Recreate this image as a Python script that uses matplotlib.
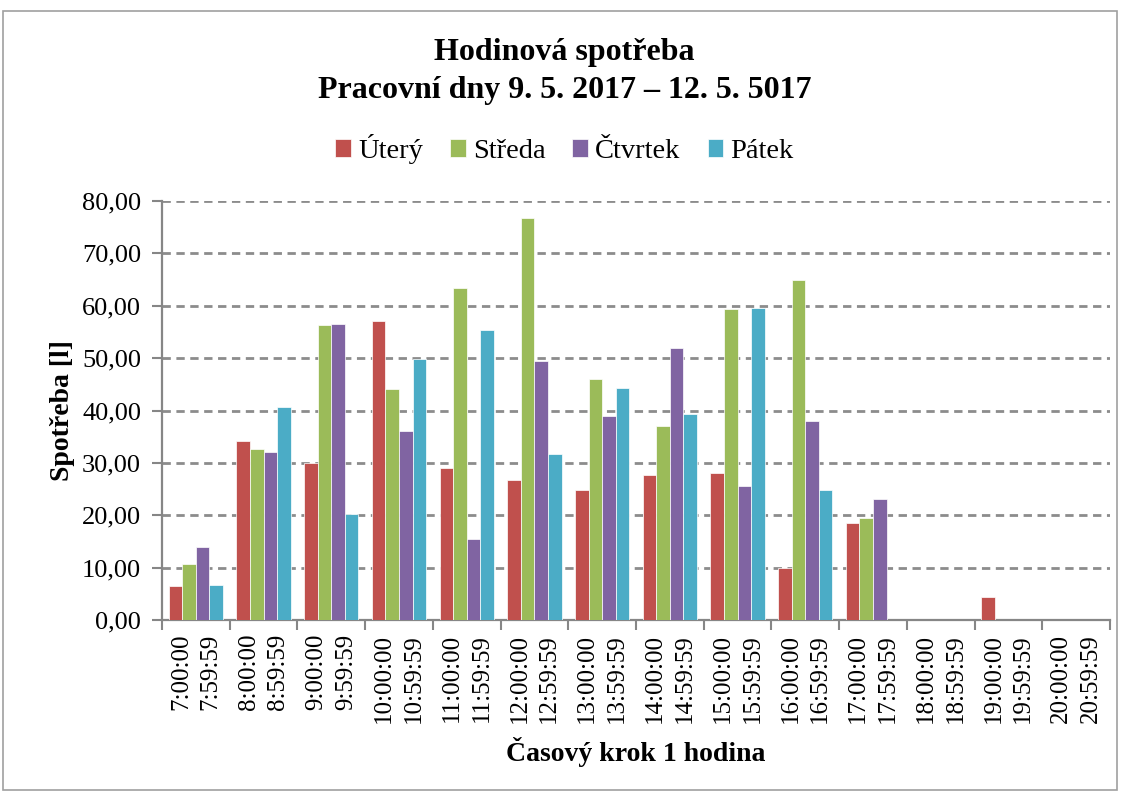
import numpy as np
import matplotlib
matplotlib.use("Agg")
import matplotlib.pyplot as plt
from matplotlib.ticker import FuncFormatter, FixedLocator
from matplotlib.patches import Rectangle

# --- data ---
hours = ["7:00:00\n7:59:59", "8:00:00\n8:59:59", "9:00:00\n9:59:59",
         "10:00:00\n10:59:59", "11:00:00\n11:59:59", "12:00:00\n12:59:59",
         "13:00:00\n13:59:59", "14:00:00\n14:59:59", "15:00:00\n15:59:59",
         "16:00:00\n16:59:59", "17:00:00\n17:59:59", "18:00:00\n18:59:59",
         "19:00:00\n19:59:59", "20:00:00\n20:59:59"]
days = ["Úterý", "Středa", "Čtvrtek", "Pátek"]
utery = [6.4, 34.2, 30.0, 57.0, 29.0, 26.8, 24.9, 27.6, 28.0, 9.9, 18.5, 0, 4.4, 0]
streda = [10.7, 32.7, 56.3, 44.1, 63.4, 76.8, 46.0, 37.1, 59.4, 64.9, 19.5, 0, 0, 0]
ctvrtek = [13.9, 32.0, 56.6, 36.0, 15.5, 49.4, 38.9, 52.0, 25.5, 37.9, 23.1, 0, 0, 0]
patek = [6.6, 40.7, 20.2, 49.9, 55.3, 31.6, 44.3, 39.3, 59.6, 24.8, 0, 0, 0, 0]
colors = ["#C0504D", "#9BBB59", "#8064A2", "#4BACC6"]

plt.rcParams['font.family'] = ['Liberation Serif', 'DejaVu Serif']

fig = plt.figure(figsize=(11.29, 7.96), dpi=100)
ax = fig.add_axes([162 / 1129, 1 - 620 / 796, (1110 - 162) / 1129, (620 - 201) / 796])

# outer chart border
fig.patches.append(Rectangle((3 / 1129, 1 - 790 / 796), 1114 / 1129, 779 / 796,
                             transform=fig.transFigure, fill=False,
                             edgecolor="#A0A0A0", linewidth=1.2))

x = np.arange(len(hours))
w = 0.2
series = [utery, streda, ctvrtek, patek]
for i, (vals, name, c) in enumerate(zip(series, days, colors)):
    ax.bar(x + (i - 1.5) * w, vals, width=w, color=c, label=name,
           edgecolor="white", linewidth=0.5, zorder=3)

ax.set_xlim(-0.5, len(hours) - 0.5)
ax.set_ylim(0, 80)
ax.set_yticks(np.arange(0, 81, 10))
ax.yaxis.set_major_formatter(FuncFormatter(lambda v, p: f"{v:.2f}".replace(".", ",")))
ax.yaxis.grid(True, color="#8C8C8C", linestyle=(0, (3, 2)), linewidth=2.0, zorder=0)
ax.set_axisbelow(True)

# ticks at category boundaries, labels at centres
ax.xaxis.set_major_locator(FixedLocator(np.arange(-0.5, len(hours), 1.0)))
ax.xaxis.set_major_formatter(FuncFormatter(lambda v, p: ""))
ax.xaxis.set_minor_locator(FixedLocator(x))
ax.set_xticklabels(hours, minor=True, rotation=90, fontsize=18,
                   va="top", ha="center", multialignment="right", linespacing=1.45)
ax.tick_params(axis="x", which="major", length=7, width=1.5, color="#868686")
ax.tick_params(axis="x", which="minor", length=0, pad=10)
ax.tick_params(axis="y", length=7, width=1.5, color="#868686", labelsize=19, pad=8)

for s in ["top", "right"]:
    ax.spines[s].set_visible(False)
for s in ["left", "bottom"]:
    ax.spines[s].set_color("#868686")
    ax.spines[s].set_linewidth(1.6)

ax.set_ylabel("Spotřeba [l]", fontsize=20, fontweight="bold", labelpad=5)
ax.set_xlabel("Časový krok 1 hodina", fontsize=20, fontweight="bold", labelpad=10)

fig.suptitle("Hodinová spotřeba\nPracovní dny 9. 5. 2017 – 12. 5. 5017",
             fontsize=23, fontweight="bold", y=1 - 38 / 796, va="top", linespacing=1.42)

fig.legend(loc="center", bbox_to_anchor=(0.5, 1 - 149 / 796), ncol=4, frameon=False,
           fontsize=20.5, handlelength=0.55, handleheight=0.55, handletextpad=0.25,
           columnspacing=0.95)

fig.savefig("out.png", dpi=100)
